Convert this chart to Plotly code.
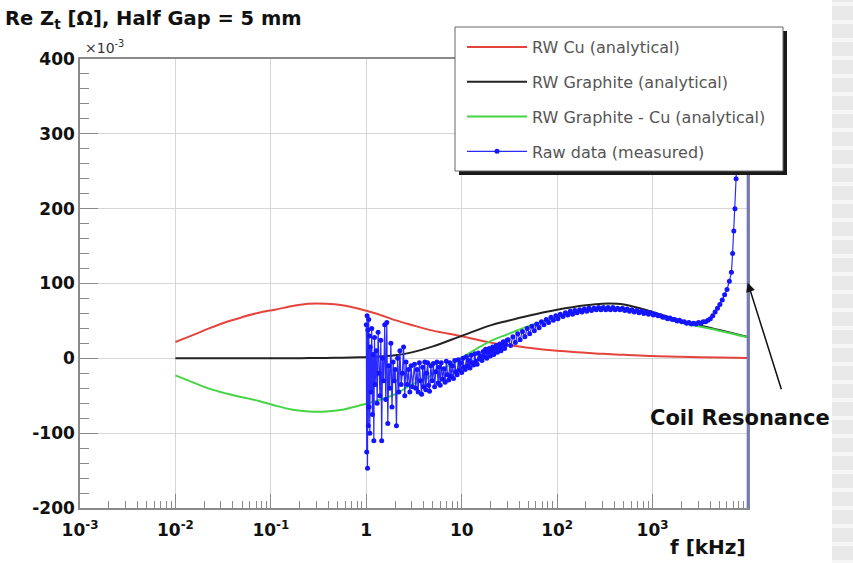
import plotly.graph_objects as go

# ---------------- data (values in units of 1e-3 Ohm) ----------------
freq_model = [0.01, 0.015, 0.0225, 0.034, 0.05, 0.075, 0.11, 0.17, 0.25, 0.38, 0.56, 0.85,
              1.26, 2, 3, 5, 10, 20, 30, 50, 100, 200, 300, 500, 1000, 2000, 5000, 10000]
rw_cu = [21.8, 30.7, 40, 48.5, 55, 61, 65, 70, 73, 73, 71, 66,
         60, 51, 44.5, 37, 29.5, 21, 18, 14, 10, 7.5, 6, 4.8, 3, 2, 1, 0.4]
rw_graphite = [0, 0, 0, 0, 0, 0, 0.1, 0.2, 0.3, 0.5, 0.8, 1.3,
               2, 4, 8, 16, 30, 44, 50, 57, 65, 71, 73, 72, 62, 50, 38, 28.5]
rw_diff = [-22.7, -31.7, -40.5, -47, -52, -57, -63, -68.6, -71, -71, -68.6, -63,
           -57, -48, -35, -22, 1, 23, 32, 43, 55, 63.5, 67, 67, 59, 48, 37, 28]

freq_raw = [1.00, 1.01, 1.02, 1.03, 1.04, 1.05, 1.06, 1.07, 1.08, 1.09, 1.10, 1.12, 1.14, 1.16,
            1.18, 1.20, 1.22, 1.24, 1.27, 1.30, 1.33, 1.36, 1.39, 1.42, 1.45, 1.48, 1.52, 1.56,
            1.60, 1.64, 1.68, 1.72, 1.76, 1.81, 1.86, 1.91, 1.96, 2.01, 2.07, 2.13, 2.19, 2.25,
            2.32, 2.39, 2.46, 2.53, 2.61, 2.69, 2.77, 2.86, 2.95, 3.05,
            3.2, 3.3, 3.4, 3.5, 3.6, 3.7, 3.8, 3.9, 4.0, 4.1, 4.2, 4.3, 4.4, 4.5, 4.6, 4.75,
            4.9, 5.05, 5.2, 5.35, 5.5, 5.65, 5.8, 5.95, 6.1, 6.3, 6.5, 6.7, 6.9, 7.1, 7.3, 7.5,
            7.7, 7.95, 8.2, 8.45, 8.7, 8.95, 9.2, 9.45, 9.7, 10.0, 10.3, 10.6, 10.9, 11.2, 11.5,
            11.85, 12.2, 12.55, 12.9, 13.3, 13.7, 14.1, 14.5, 14.95, 15.4, 15.85, 16.3, 16.8,
            17.3, 17.8, 18.3, 18.85, 19.4, 19.95, 20.5, 21.1, 21.7, 22.35, 23, 23.7, 24.4, 25.1,
            25.8, 26.55, 27.3, 28.15, 29, 29.85,
            30.7, 32.5, 34.4, 36.5, 38.6, 40.9, 43.3,
            45.9, 48.6, 51.5, 54.5, 57.7, 61.1, 64.7, 68.5, 72.6, 76.9, 81.4, 86.2, 91.3, 96.7,
            102, 108, 115, 122, 129, 137, 145, 153, 162, 172, 182, 193, 204, 216, 229, 243, 257,
            272, 288, 305, 323, 342, 362, 384, 406, 430, 456, 483, 511, 541, 573, 607, 643, 681,
            721, 764, 809, 857, 907, 961, 1018, 1078, 1141, 1209, 1280, 1356, 1436, 1521, 1610,
            1706, 1806, 1913, 2026, 2146, 2272, 2406, 2548, 2699, 2858, 3027, 3205, 3395, 3595,
            3807, 4032, 4270, 4522, 4789, 5071, 5371, 5688, 6023, 6379, 6700, 6900, 7100, 7300,
            7500, 7700, 7900, 8100, 8300, 9886, 9886]
re_raw = [45, -125, 57, -147, 38, -90, 52, -65, 30, -100, 15, -45, 40, -75,
          5, -110, 28, -35, 10, -60, 35, -20, -50, 24, -110, 0, -30, 45,
          -55, 48, -87, -10, -40, 20, -65, -5, -30, -15, -90, 0, -45, 10,
          -35, -20, 15, -50, -5, -35, -15, -45, -10, -38,
          -8, -40, -15, -45, -6, -30, -48, -12, -38, -5, -42, -20, -6, -36, -44, -10,
          -30, -7, -38, -18, -5, -33, -12, -36, -6, -28, -14, -32, -4, -22, -29, -6,
          -24, -10, -27, -3, -18, -22, -2, -16, -6, -19, 0, -12, -15, 2, -10,
          -3, -13, 4, -6, -9, 6, -4, -8, 7, -1, 3, -3, 9,
          2, 12, 0, 8, 13, 3, 10, 15, 5, 12, 17, 8, 14, 19,
          10, 16, 22, 13, 18, 24,
          25, 17, 29, 21, 33, 25, 36,
          29, 40, 33, 43, 37, 46, 41, 49, 45, 52, 48, 55, 51, 57,
          53, 59, 56, 61, 58, 63, 59, 64, 61, 65, 62, 66, 63, 67, 64, 67, 65,
          68, 65, 68, 65, 68, 65, 68, 65, 67, 65, 67, 64, 66, 63, 65, 62, 64,
          61, 63, 60, 62, 59, 61, 58, 59, 57, 57, 55, 55, 53, 54, 52,
          52, 50, 51, 49, 49, 47, 48, 46, 47, 46, 48, 47, 49, 49,
          51, 53, 57, 62, 67, 72, 78, 85, 92, 103, 115, 140, 170, 200,
          240, 280, 340, 420, 520, 2000, -2000]

x_tickvals = [0.001, 0.01, 0.1, 1, 10, 100, 1000]
x_ticktext = ["10<sup>-3</sup>", "10<sup>-2</sup>", "10<sup>-1</sup>", "1", "10",
              "10<sup>2</sup>", "10<sup>3</sup>"]
y_tickvals = [-200, -100, 0, 100, 200, 300, 400]
y_ticktext = ["-200", "-100", "0", "100", "200", "300", "400"]

# ---------------- figure ----------------
W, H = 853, 563
ML, MR, MT, MB = 80, 105, 59, 55
PW, PH = W - ML - MR, H - MT - MB


def px2paper_x(px):
    return (px - ML) / PW


def px2paper_y(py):
    return (H - MB - py) / PH


fig = go.Figure()
fig.add_trace(go.Scatter(x=freq_model, y=rw_cu, mode="lines", name="RW Cu (analytical)",
                         line=dict(color="#e4443c", width=2, shape="spline"), legendgroup="a"))
fig.add_trace(go.Scatter(x=freq_model, y=rw_graphite, mode="lines", name="RW Graphite (analytical)",
                         line=dict(color="#222222", width=2, shape="spline"), legendgroup="b"))
fig.add_trace(go.Scatter(x=freq_model, y=rw_diff, mode="lines", name="RW Graphite - Cu (analytical)",
                         line=dict(color="#45d445", width=2, shape="spline"), legendgroup="c"))
fig.add_trace(go.Scatter(x=freq_raw, y=re_raw, mode="lines+markers", name="Raw data (measured)",
                         line=dict(color="#2a2aff", width=1.2),
                         marker=dict(color="#1414ff", size=5), legendgroup="d"))

tickfont = dict(family="DejaVu Sans", size=17, color="#111111", weight=700)
minor_x = [k * 10 ** d for d in range(-3, 4) for k in range(2, 10)]

fig.update_xaxes(type="log", range=[-3, 4], tickvals=x_tickvals, ticktext=x_ticktext,
                 tickfont=tickfont, ticks="inside", ticklen=14, tickcolor="#8a8a8a",
                 showgrid=True, gridcolor="#d6d6d6", gridwidth=1,
                 showline=True, linecolor="#8a8a8a", linewidth=1.5, mirror=True,
                 zeroline=False, ticklabelstandoff=6,
                 minor=dict(tickvals=minor_x, ticks="inside", ticklen=7, tickcolor="#8a8a8a",
                            showgrid=False))
fig.update_yaxes(range=[-200, 400], tickvals=y_tickvals, ticktext=y_ticktext,
                 tickfont=tickfont, ticks="inside", ticklen=18, tickcolor="#8a8a8a",
                 showgrid=True, gridcolor="#d6d6d6", gridwidth=1,
                 showline=True, linecolor="#8a8a8a", linewidth=1.5, mirror=True,
                 zeroline=False, ticklabelstandoff=0,
                 minor=dict(dtick=20, ticks="inside", ticklen=9, tickcolor="#8a8a8a",
                            showgrid=False))

shapes = []
# right-hand striped strip (page background)
shapes.append(dict(type="rect", xref="paper", yref="paper",
                   x0=px2paper_x(832), x1=px2paper_x(853), y0=px2paper_y(563), y1=px2paper_y(0),
                   fillcolor="#e9e9e9", line=dict(width=0), layer="below"))
for k in range(32):
    yy = px2paper_y(4 + 18 * k)
    shapes.append(dict(type="line", xref="paper", yref="paper",
                       x0=px2paper_x(832), x1=px2paper_x(853), y0=yy, y1=yy,
                       line=dict(color="#f6f6f6", width=4), layer="below"))
# right frame edge tinted by the resonance line
shapes.append(dict(type="line", xref="paper", yref="paper", x0=1, x1=1, y0=0, y1=1,
                   line=dict(color="#7579b8", width=2.5), layer="above"))
# legend box with shadow
shapes.append(dict(type="rect", xref="paper", yref="paper",
                   x0=px2paper_x(459), x1=px2paper_x(787), y0=px2paper_y(175), y1=px2paper_y(31),
                   fillcolor="#1a1a1a", line=dict(width=0), layer="above"))
shapes.append(dict(type="rect", xref="paper", yref="paper",
                   x0=px2paper_x(455), x1=px2paper_x(783), y0=px2paper_y(171), y1=px2paper_y(27),
                   fillcolor="white", line=dict(color="#666666", width=1), layer="above"))

annotations = [
    dict(text="×10<sup>-3</sup>", xref="paper", yref="paper", x=px2paper_x(83), y=px2paper_y(47),
         xanchor="left", yanchor="middle", showarrow=False,
         font=dict(family="DejaVu Sans", size=14, color="#333333")),
    dict(text="f [kHz]", xref="paper", yref="paper", x=1.0, y=px2paper_y(547),
         xanchor="right", yanchor="middle", showarrow=False,
         font=dict(family="DejaVu Sans", size=20, color="#111111", weight=700)),
    dict(text="Coil Resonance", xref="paper", yref="paper", x=px2paper_x(740), y=px2paper_y(418),
         xanchor="center", yanchor="middle", showarrow=False,
         font=dict(family="DejaVu Sans", size=21, color="#111111", weight=700)),
    dict(text="", xref="x", yref="y", x=3.998, y=101, ax=34, ay=108,
         showarrow=True, arrowhead=2, arrowsize=1.2, arrowwidth=1.5, arrowcolor="#111111"),
]

fig.update_layout(
    width=W, height=H,
    margin=dict(l=ML, r=MR, t=MT, b=MB, pad=0),
    paper_bgcolor="white", plot_bgcolor="white",
    title=dict(text="Re Z<sub>t</sub> [Ω], Half Gap = 5 mm", x=5 / W, xanchor="left",
               y=1 - 18 / H, yanchor="middle",
               font=dict(family="DejaVu Sans", size=19.5, color="#111111", weight=700)),
    showlegend=True,
    legend=dict(x=px2paper_x(462), y=px2paper_y(30), xanchor="left", yanchor="top",
                bgcolor="rgba(0,0,0,0)", borderwidth=0, tracegroupgap=11, itemwidth=60,
                font=dict(family="DejaVu Sans", size=16, color="#555555")),
    shapes=shapes,
    annotations=annotations,
)

fig.write_html("out.html")
